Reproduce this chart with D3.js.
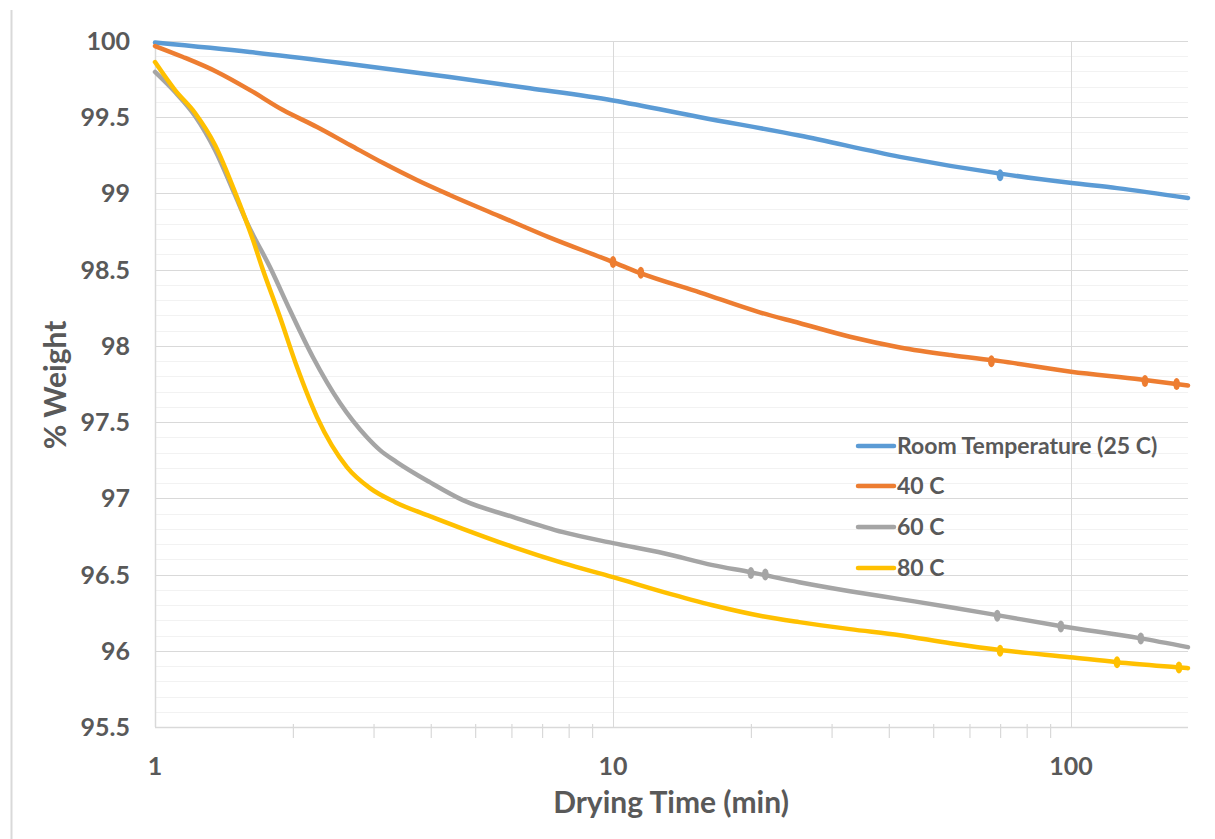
<!DOCTYPE html>
<html><head><meta charset="utf-8">
<script src="https://cdn.jsdelivr.net/npm/d3@7"></script>
<style>
body{margin:0;background:#fff;}
text{font-family:Lato,"Open Sans",sans-serif;font-weight:700;fill:#595959;}
</style></head>
<body><svg id="c" width="1215" height="839"></svg>
<script>
const seriesNames = ["Room Temperature (25 C)", "40 C", "60 C", "80 C"];
const seriesColors = ["#5B9BD5", "#ED7D31", "#A5A5A5", "#FFC000"];

const roomTemp = [[1,99.99],[1.61,99.928],[2.66,99.849],[4.40,99.764],[6.58,99.69],[10,99.61],[15.5,99.50],[25.5,99.38],[42.3,99.24],[70,99.13],[99.4,99.07],[126,99.035],[180,98.97]];
const temp40 = [[1,99.967],[1.151,99.895],[1.366,99.797],[1.612,99.678],[1.903,99.547],[2.258,99.436],[2.664,99.318],[3.15,99.199],[3.73,99.088],[4.40,98.99],[5.66,98.85],[7.28,98.71],[10,98.55],[11.4,98.48],[15.5,98.35],[20.9,98.22],[25.5,98.15],[32.9,98.06],[42.3,97.99],[54.5,97.94],[70,97.90],[100,97.83],[142,97.78],[180,97.74]];
const temp60 = [[1,99.797],[1.106,99.665],[1.223,99.508],[1.352,99.285],[1.495,98.990],[1.589,98.806],[1.782,98.517],[1.970,98.235],[2.211,97.927],[2.534,97.625],[2.899,97.402],[3.099,97.316],[3.37,97.238],[3.98,97.106],[4.70,96.988],[6.06,96.877],[7.78,96.778],[10,96.706],[12.9,96.640],[16.5,96.562],[19.9,96.516],[25.5,96.450],[32.9,96.391],[42.3,96.339],[54.5,96.286],[68.9,96.234],[95.3,96.161],[141,96.083],[180,96.024]];
const temp80 = [[1,99.862],[1.106,99.678],[1.223,99.528],[1.352,99.318],[1.495,99.009],[1.637,98.694],[1.712,98.517],[1.874,98.189],[2.042,97.861],[2.258,97.533],[2.624,97.205],[2.947,97.067],[3.343,96.975],[3.98,96.883],[4.70,96.80],[6.06,96.680],[7.78,96.575],[10,96.483],[12.9,96.385],[16.5,96.299],[21.2,96.227],[25.5,96.188],[32.9,96.142],[42.3,96.102],[54.5,96.050],[70.6,96.004],[99.4,95.958],[126,95.925],[170,95.892],[180,95.886]];

const roomTempMarks = [[70,99.12]];
const temp40Marks = [[10,98.55],[11.5,98.48],[67,97.90],[145,97.77],[170,97.75]];
const temp60Marks = [[20,96.51],[21.5,96.50],[69,96.23],[95,96.16],[142,96.08]];
const temp80Marks = [[70,96.00],[126,95.925],[172,95.89]];

const yTicks = [95.5,96,96.5,97,97.5,98,98.5,99,99.5,100];
const xTicks = [1,10,100];

const allSeries = [roomTemp, temp40, temp60, temp80];
const allMarks = [roomTempMarks, temp40Marks, temp60Marks, temp80Marks];

const svg = d3.select("#c");
const L=155,R=1188,T=41,B=727;
const x = d3.scaleLog().domain([1,180]).range([L,R]);
const y = d3.scaleLinear().domain([95.5,100]).range([B,T]);

// outer border line
svg.append("line").attr("x1",11.5).attr("x2",11.5).attr("y1",10).attr("y2",839).attr("stroke","#d9d9d9").attr("stroke-width",2);

// minor horizontal grid
const minorY = d3.range(95.6,100,0.1).filter(v=>Math.abs(v*2-Math.round(v*2))>0.01);
svg.append("g").selectAll("line").data(minorY).join("line")
  .attr("x1",L).attr("x2",R).attr("y1",d=>Math.round(y(d))+0.5).attr("y2",d=>Math.round(y(d))+0.5)
  .attr("stroke","#f2f2f2").attr("stroke-width",1);
// major horizontal grid
svg.append("g").selectAll("line").data(yTicks).join("line")
  .attr("x1",L).attr("x2",R).attr("y1",d=>Math.round(y(d))+0.5).attr("y2",d=>Math.round(y(d))+0.5)
  .attr("stroke","#d9d9d9").attr("stroke-width",1);
// vertical major grid
svg.append("g").selectAll("line").data(xTicks).join("line")
  .attr("x1",d=>Math.round(x(d))+0.5).attr("x2",d=>Math.round(x(d))+0.5).attr("y1",T).attr("y2",B)
  .attr("stroke","#d9d9d9").attr("stroke-width",1);

// x axis with minor ticks
const minorX = [];
[1,10,100].forEach(dec=>{for(let k=2;k<=9;k++){const v=dec*k;if(v<=180)minorX.push(v);}});
const xAxis = d3.axisBottom(x).tickValues(minorX).tickSize(7).tickFormat("");
const gx = svg.append("g").attr("transform",`translate(0,${B-3})`).call(xAxis);
gx.select(".domain").remove();
gx.selectAll("line").attr("stroke","#d9d9d9").attr("y2",14).attr("stroke-width",1.2);

svg.append("line").attr("x1",L).attr("x2",R).attr("y1",B+0.5).attr("y2",B+0.5).attr("stroke","#d9d9d9").attr("stroke-width",1.5);
svg.append("line").attr("x1",L+0.5).attr("x2",L+0.5).attr("y1",T).attr("y2",B).attr("stroke","#d9d9d9").attr("stroke-width",1.5);

// x tick labels
svg.append("g").selectAll("text").data(xTicks).join("text")
  .attr("x",d=>x(d)).attr("y",775).attr("text-anchor","middle").attr("font-size",25).text(d=>d);
// y tick labels
svg.append("g").selectAll("text").data(yTicks).join("text")
  .attr("x",130).attr("y",d=>y(d)+9).attr("text-anchor","end").attr("font-size",25).text(d=>d);

// axis titles
svg.append("text").attr("x",671).attr("y",813).attr("text-anchor","middle").attr("font-size",30).text("Drying Time (min)");
svg.append("text").attr("transform","translate(66,385) rotate(-90)").attr("text-anchor","middle").attr("font-size",30).text("% Weight");

// lines
const line = d3.line().x(d=>x(d[0])).y(d=>y(d[1])).curve(d3.curveMonotoneX);
allSeries.forEach((s,i)=>{
  svg.append("path").datum(s).attr("d",line).attr("fill","none")
    .attr("stroke",seriesColors[i]).attr("stroke-width",4.5).attr("stroke-linecap","round").attr("stroke-linejoin","round");
  svg.append("g").selectAll("ellipse").data(allMarks[i]).join("ellipse")
    .attr("cx",d=>x(d[0])).attr("cy",d=>y(d[1])).attr("rx",3.4).attr("ry",6).attr("fill",seriesColors[i]);
});

// legend
const lg = svg.append("g");
const legY = [446,486,527,568];
seriesNames.forEach((n,i)=>{
  lg.append("line").attr("x1",858).attr("x2",894).attr("y1",legY[i]).attr("y2",legY[i])
    .attr("stroke",seriesColors[i]).attr("stroke-width",4.5).attr("stroke-linecap","round");
  lg.append("text").attr("x",897).attr("y",legY[i]+8).attr("font-size",23).text(n);
});
</script></body></html>
